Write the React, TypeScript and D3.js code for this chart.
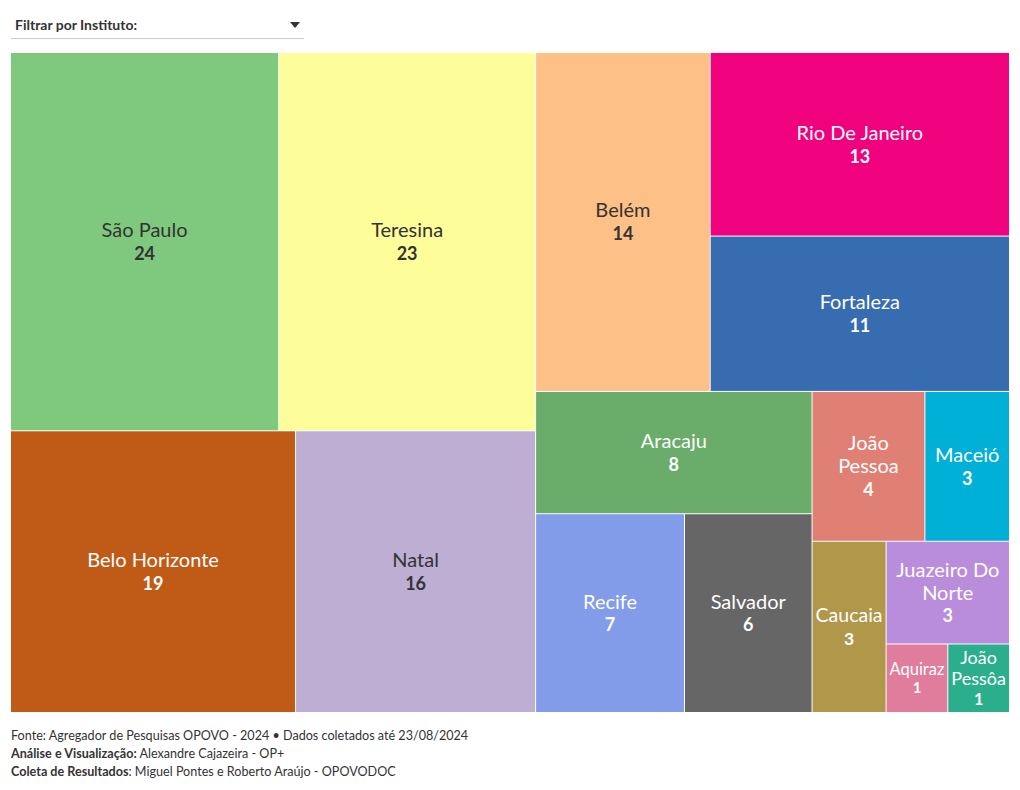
import React, { useMemo } from "react";
import * as d3 from "d3";

const cities = [
  "São Paulo", "Teresina", "Belo Horizonte", "Natal", "Belém", "Rio De Janeiro",
  "Fortaleza", "Aracaju", "Recife", "Salvador", "João Pessoa", "Maceió",
  "Caucaia", "Juazeiro Do Norte", "Aquiraz", "João Pessôa",
];
const counts = [24, 23, 19, 16, 14, 13, 11, 8, 7, 6, 4, 3, 3, 3, 1, 1];
const palette = [
  "#7fc97f", "#fdfd9a", "#bf5b17", "#beaed4", "#fdc086", "#f0027f",
  "#386cb0", "#6aad6a", "#829ce9", "#666666", "#e07f73", "#00b0d6",
  "#b0974a", "#b98ddc", "#e07c9c", "#2aae8c",
];
const footerLines = [
  { bold: "", rest: "Fonte: Agregador de Pesquisas OPOVO - 2024 • Dados coletados até 23/08/2024" },
  { bold: "Análise e Visualização:", rest: " Alexandre Cajazeira - OP+" },
  { bold: "Coleta de Resultados", rest: ": Miguel Pontes e Roberto Araújo - OPOVODOC" },
];

const FONT = "Lato, 'Source Sans Pro', sans-serif";
const X0 = 11, Y0 = 53, W = 997, H = 658;

let ctx: CanvasRenderingContext2D | null = null;
function measure(text: string, size: number, bold = false) {
  if (!ctx) ctx = document.createElement("canvas").getContext("2d");
  ctx!.font = `${bold ? "bold " : ""}${size}px ${FONT}`;
  return ctx!.measureText(text).width;
}

function wrap(text: string, size: number, maxW: number) {
  const words = text.split(" ");
  const lines: string[] = [];
  let cur = "";
  for (const w of words) {
    const t = cur ? cur + " " + w : w;
    if (measure(t, size) <= maxW || !cur) cur = t;
    else { lines.push(cur); cur = w; }
  }
  if (cur) lines.push(cur);
  return lines;
}

function layoutLabel(name: string, w: number, h: number) {
  const fitW = w - 5;
  const wrapW = w - 14;
  for (let size = 20; size >= 8; size -= 0.5) {
    const words = name.split(" ");
    const longest = Math.max(...words.map((x) => measure(x, size)));
    if (longest > fitW) continue;
    const lines = wrap(name, size, wrapW);
    const lh = size * 1.1 + 1;
    const valSize = Math.min(18, size * 0.9);
    const total = lines.length * lh + valSize * 1.2;
    if (total > h - 6) continue;
    return { size, lines, lh, valSize };
  }
  return { size: 8, lines: [name], lh: 9, valSize: 8 };
}

export default function App() {
  const leaves = useMemo(() => {
    const data = { children: cities.map((c, i) => ({ name: c, value: counts[i], idx: i })) };
    const root = d3.hierarchy<any>(data).sum((d: any) => d.value || 0);
    d3.treemap<any>().tile(d3.treemapBinary).size([W + 1, H + 1]).paddingInner(1).round(false)(root);
    return root.leaves() as any[];
  }, []);

  return (
    <div style={{ position: "absolute", left: 0, top: 0 }}>
      <svg width={1020} height={790} style={{ display: "block", fontFamily: FONT }}>
        <rect width={1020} height={790} fill="#fff" />
        <text x={15} y={30} fontSize={14} fontWeight="bold" fill="#333">Filtrar por Instituto:</text>
        <line x1={11} x2={304} y1={38.5} y2={38.5} stroke="#ccc" />
        <path d="M290,22 L300,22 L295,28 Z" fill="#333" />
        {leaves.map((d: any) => {
          const x = X0 + d.x0, y = Y0 + d.y0;
          const w = d.x1 - d.x0, h = d.y1 - d.y0;
          const fill = palette[d.data.idx];
          const light = d3.lab(fill).l > 70;
          const tc = light ? "#333" : "#fff";
          const L = layoutLabel(d.data.name, w, h);
          const blockH = L.lines.length * L.lh + L.valSize * 1.15;
          const cx = x + w / 2;
          const top = y + h / 2 - blockH / 2;
          return (
            <g key={d.data.name}>
              <rect x={x} y={y} width={w} height={h} fill={fill} />
              <text textAnchor="middle" fill={tc} fontSize={L.size}>
                {L.lines.map((ln, i) => (
                  <tspan key={i} x={cx} y={top + (i + 0.75) * L.lh}>{ln}</tspan>
                ))}
                <tspan x={cx} y={top + L.lines.length * L.lh + L.valSize * 0.95} fontWeight="bold" fontSize={L.valSize}>
                  {d.data.value}
                </tspan>
              </text>
            </g>
          );
        })}
        {footerLines.map((f, i) => (
          <text key={i} x={11} y={740 + i * 18} fontSize={12.6} fill="#333">
            {f.bold && <tspan fontWeight="bold">{f.bold}</tspan>}
            <tspan>{f.rest}</tspan>
          </text>
        ))}
      </svg>
    </div>
  );
}
